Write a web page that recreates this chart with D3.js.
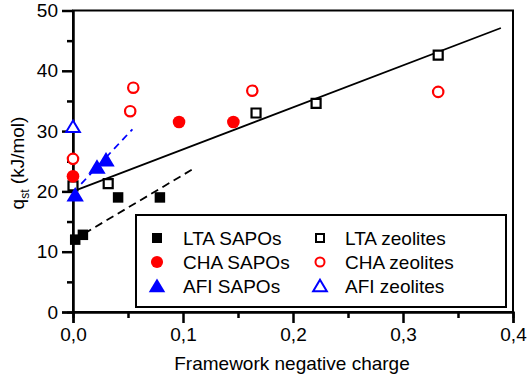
<!DOCTYPE html>
<html><head><meta charset="utf-8">
<script src="https://cdn.jsdelivr.net/npm/d3@7"></script>
<style>body{margin:0;background:#fff}svg{display:block}text{font-family:"Liberation Sans",Arial,sans-serif}</style>
</head><body>
<script>
// Data
const ltaSapoX = [0.002, 0.009, 0.041, 0.079];
const ltaSapoY = [12.0, 12.8, 19.0, 19.0];
const ltaZeoX = [0.0, 0.032, 0.1664, 0.221, 0.332];
const ltaZeoY = [20.9, 21.3, 33.0, 34.6, 42.6];
const chaSapoX = [0.0, 0.0964, 0.1458];
const chaSapoY = [22.5, 31.5, 31.5];
const chaZeoX = [0.0, 0.052, 0.0548, 0.163, 0.332];
const chaZeoY = [25.4, 33.3, 37.2, 36.7, 36.5];
const afiSapoX = [0.002, 0.0218, 0.030];
const afiSapoY = [19.4, 24.0, 25.2];
const afiZeoX = [0.0];
const afiZeoY = [30.7];
// fit lines [x0, y0, x1, y1]
const fitAll = [0, 20.0, 0.389, 47.1];
const fitLta = [0, 11.9, 0.109, 23.7];
const fitAfi = [0, 19.8, 0.054, 30.3];
const xTicks = [0, 0.1, 0.2, 0.3, 0.4];
const yTicks = [0, 10, 20, 30, 40, 50];
const legendLabels = ["LTA SAPOs", "CHA SAPOs", "AFI SAPOs", "LTA zeolites", "CHA zeolites", "AFI zeolites"];

const W = 529, H = 380, FS = 19;
const svg = d3.select("body").append("svg").attr("width", W).attr("height", H);
const x = d3.scaleLinear().domain([0, 0.4]).range([73, 513]);
const y = d3.scaleLinear().domain([0, 50]).range([312, 10.5]);
const fmt = d => d3.format(".1f")(d).replace(".", ",");

// frame
svg.append("rect").attr("x", x(0)).attr("y", y(50)).attr("width", x(0.4) - x(0)).attr("height", y(0) - y(50))
  .attr("fill", "none").attr("stroke", "#000").attr("stroke-width", 2);

// axes
const xAxis = svg.append("g").attr("transform", `translate(0,${y(0)})`)
  .call(d3.axisBottom(x).tickValues(xTicks).tickFormat(fmt).tickSize(11).tickPadding(5));
const xMinor = svg.append("g").attr("transform", `translate(0,${y(0)})`)
  .call(d3.axisBottom(x).tickValues([0.05, 0.15, 0.25, 0.35]).tickFormat("").tickSize(6));
const yAxis = svg.append("g").attr("transform", `translate(${x(0)},0)`)
  .call(d3.axisLeft(y).tickValues(yTicks).tickFormat(d3.format("d")).tickSize(11).tickPadding(4));
const yMinor = svg.append("g").attr("transform", `translate(${x(0)},0)`)
  .call(d3.axisLeft(y).tickValues([5, 15, 25, 35, 45]).tickFormat("").tickSize(6));
[xAxis, xMinor, yAxis, yMinor].forEach(g => {
  g.select(".domain").attr("stroke-width", 2);
  g.selectAll(".tick line").attr("stroke-width", 2.5);
  g.selectAll("text").attr("font-size", FS).attr("fill", "#000").attr("font-family", "Liberation Sans, Arial, sans-serif");
});

// titles
svg.append("text").attr("x", 292).attr("y", 370).attr("text-anchor", "middle").attr("font-size", FS).text("Framework negative charge");
const yt = svg.append("text").attr("transform", "translate(24,163) rotate(-90)").attr("text-anchor", "middle").attr("font-size", FS);
yt.append("tspan").text("q");
yt.append("tspan").attr("font-size", 12).attr("dy", 5).text("st");
yt.append("tspan").attr("dy", -5).text(" (kJ/mol)");

// lines
const line = (a, dash, color) => svg.append("line").attr("x1", x(a[0])).attr("y1", y(a[1])).attr("x2", x(a[2])).attr("y2", y(a[3]))
  .attr("stroke", color).attr("stroke-width", 1.8).attr("stroke-dasharray", dash);
line(fitAll, null, "#000");
line(fitLta, "8,5", "#000");
line(fitAfi, "7,5", "#0000ff");

const zip = (xs, ys) => xs.map((v, i) => [v, ys[i]]);
function draw(data, type, size, fill, stroke, sw) {
  svg.append("g").selectAll("path").data(data).enter().append("path")
    .attr("transform", d => `translate(${x(d[0])},${y(d[1])})`)
    .attr("d", d3.symbol().type(type).size(size)())
    .attr("fill", fill).attr("stroke", stroke).attr("stroke-width", sw);
}
const triUp = { draw(ctx, size) { const s = Math.sqrt(size); ctx.moveTo(0, -s * 0.55); ctx.lineTo(s * 0.6, s * 0.45); ctx.lineTo(-s * 0.6, s * 0.45); ctx.closePath(); } };

draw(zip(ltaZeoX, ltaZeoY), d3.symbolSquare, 81, "#fff", "#000", 2.2);
draw(zip(chaZeoX, chaZeoY), d3.symbolCircle, 85, "#fff", "#ff0000", 2.2);
draw(zip(afiZeoX, afiZeoY), triUp, 130, "#fff", "#0000ff", 2);
draw(zip(ltaSapoX, ltaSapoY), d3.symbolSquare, 110, "#000", "none", 0);
draw(zip(chaSapoX, chaSapoY), d3.symbolCircle, 125, "#ff0000", "none", 0);
draw(zip(afiSapoX, afiSapoY), triUp, 210, "#0000ff", "none", 0);

// legend
svg.append("rect").attr("x", 136).attr("y", 215).attr("width", 370).attr("height", 92)
  .attr("fill", "#fff").attr("stroke", "#000").attr("stroke-width", 2);
const legSyms = [
  [d3.symbolSquare, 100, "#000", "none", 0], [d3.symbolCircle, 115, "#ff0000", "none", 0], [triUp, 190, "#0000ff", "none", 0],
  [d3.symbolSquare, 64, "#fff", "#000", 2], [d3.symbolCircle, 64, "#fff", "#ff0000", 2], [triUp, 130, "#fff", "#0000ff", 2]
];
legendLabels.forEach((lab, i) => {
  const col = Math.floor(i / 3), row = i % 3;
  const mx = col === 0 ? 157 : 320, ty = 238 + row * 24;
  const s = legSyms[i];
  svg.append("path").attr("transform", `translate(${mx},${ty})`).attr("d", d3.symbol().type(s[0]).size(s[1])())
    .attr("fill", s[2]).attr("stroke", s[3]).attr("stroke-width", s[4]);
  svg.append("text").attr("x", col === 0 ? 183 : 345).attr("y", ty + 7).attr("font-size", FS).text(lab);
});
</script>
</body></html>
